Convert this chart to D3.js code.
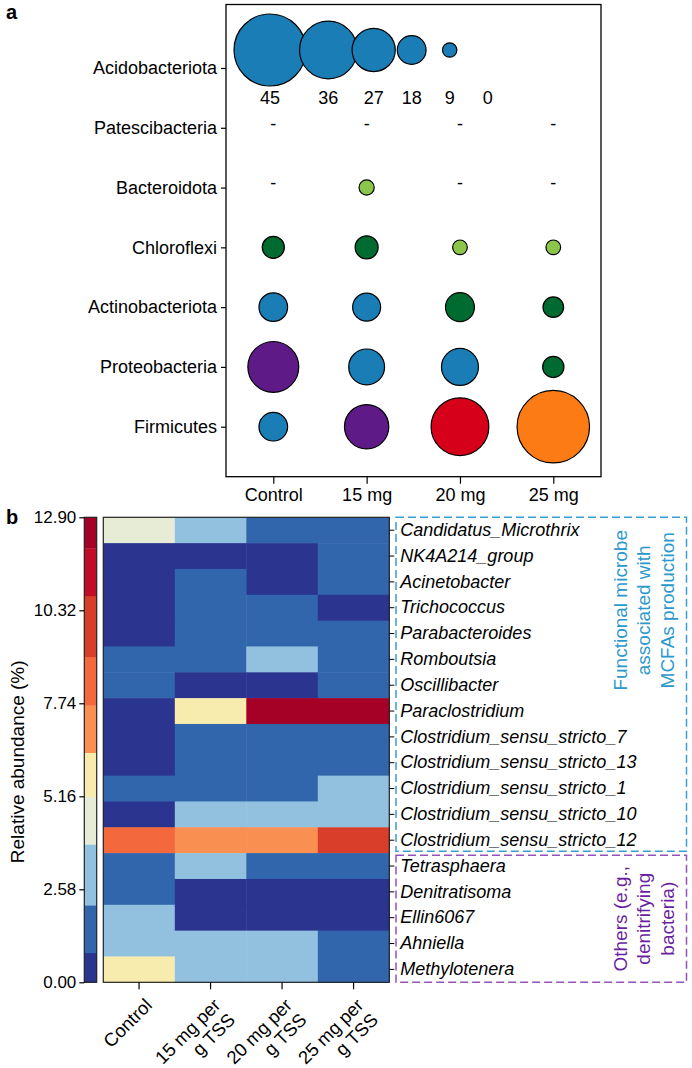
<!DOCTYPE html>
<html><head><meta charset="utf-8">
<script src="https://cdn.jsdelivr.net/npm/d3@7"></script>
<style>
body{margin:0;background:#fff}
svg{display:block}
text{font-family:"Liberation Sans",Arial,Helvetica,sans-serif;fill:#000}
</style>
</head><body>
<svg id="chart" width="692" height="1068"></svg>
<script>
// ---------- Panel a data ----------
const phyla = ["Acidobacteriota","Patescibacteria","Bacteroidota","Chloroflexi","Actinobacteriota","Proteobacteria","Firmicutes"];
const doses = ["Control","15 mg","20 mg","25 mg"];
// relative abundance (%) per dose; null = not detected ("-")
const patescibacteria = [null, null, null, null];
const bacteroidota    = [null, 9.5, null, null];
const chloroflexi     = [13.8, 14.4, 9.2, 9.2];
const actinobacteriota= [17.9, 17.5, 18.1, 12.9];
const proteobacteria  = [31.8, 22.4, 23.1, 13.3];
const firmicutes      = [17.9, 27.7, 36.1, 45.3];
// colour class of each bubble
const bacteroidotaCls = [null, "ltgreen", null, null];
const chloroflexiCls  = ["dkgreen","dkgreen","ltgreen","ltgreen"];
const actinoCls       = ["blue","blue","dkgreen","dkgreen"];
const proteoCls       = ["purple","blue","blue","dkgreen"];
const firmicutesCls   = ["blue","purple","red","orange"];
const sizeLegend = [45, 36, 27, 18, 9, 0];

// ---------- Panel b data ----------
const genera = ["Candidatus_Microthrix","NK4A214_group","Acinetobacter","Trichococcus","Parabacteroides",
  "Romboutsia","Oscillibacter","Paraclostridium","Clostridium_sensu_stricto_7","Clostridium_sensu_stricto_13",
  "Clostridium_sensu_stricto_1","Clostridium_sensu_stricto_10","Clostridium_sensu_stricto_12",
  "Tetrasphaera","Denitratisoma","Ellin6067","Ahniella","Methylotenera"];
const treatments = [["Control"],["15 mg per","g TSS"],["20 mg per","g TSS"],["25 mg per","g TSS"]];
const heatControl = [4.5,0.5,0.3,0.2,0.4,1.7,1.1,0.3,0.5,0.2,1.8,0.6,8.3,1.6,1.3,2.6,3.3,5.5];
const heat15      = [3.0,0.6,1.3,1.0,1.4,1.5,0.5,5.9,1.6,1.2,1.9,2.8,7.2,2.4,0.3,0.4,2.7,2.3];
const heat20      = [1.5,0.4,0.5,1.2,1.6,2.6,0.4,12.9,1.4,1.3,1.6,2.9,7.0,1.4,0.2,0.3,2.5,2.2];
const heat25      = [1.4,1.2,1.1,0.6,1.3,1.2,1.0,12.6,1.7,1.5,2.5,3.2,9.5,1.2,0.2,0.3,1.9,1.1];
const colorbarTicks = [0.00, 2.58, 5.16, 7.74, 10.32, 12.90];
const colorBreaks = [0.82, 2.14, 3.83, 5.15, 6.37, 7.69, 9.03, 10.72, 12.04];
const colorbarMax = 12.90;
const groupFunctional = ["Functional microbe","associated with","MCFAs production"];
const groupOthers = ["Others (e.g.,","denitrifying","bacteria)"];
const nFunctional = 13;

// ---------- styles ----------
const bubblePalette = {blue:"#1a7db5", purple:"#5e1b87", red:"#d6001b", orange:"#fd7b14", dkgreen:"#006b31", ltgreen:"#8bc54b"};
const heatPalette = ["#2b3590","#3166ad","#92c1df","#e6ecd6","#f8ebae","#f98f50","#f3683c","#d93e2a","#c20b27","#a50026"];
const FS = 18;

const svg = d3.select("#chart");

// ======================= PANEL A =======================
const aL = 226, aR = 601, aT = 4.5, aB = 476.7;
const x = d3.scalePoint().domain(doses).range([273.3, 553.3]);
const y = d3.scalePoint().domain(phyla).range([68, 426.7]);
const r = d3.scaleLinear().domain([0, 45]).range([0, 36]);
const color = d3.scaleOrdinal().domain(Object.keys(bubblePalette)).range(Object.values(bubblePalette));

svg.append("text").attr("x", 6).attr("y", 19).style("font-weight","bold").style("font-size","20px").text("a");

const gA = svg.append("g");
gA.append("rect").attr("x", aL).attr("y", aT).attr("width", aR-aL).attr("height", aB-aT)
  .attr("fill","none").attr("stroke","#000").attr("stroke-width",1.3);

// y axis
const yAxis = gA.append("g").attr("transform",`translate(${aL},0)`)
  .call(d3.axisLeft(y).tickSize(5).tickPadding(4));
yAxis.select(".domain").remove();
yAxis.selectAll("line").attr("stroke","#000").attr("stroke-width",1.2);
yAxis.selectAll("text").style("font-size",FS+"px").attr("fill","#000");
// x axis
const xAxis = gA.append("g").attr("transform",`translate(0,${aB})`)
  .call(d3.axisBottom(x).tickSize(7).tickPadding(5));
xAxis.select(".domain").remove();
xAxis.selectAll("line").attr("stroke","#000").attr("stroke-width",1.2);
xAxis.selectAll("text").style("font-size",FS+"px").attr("fill","#000");

// bubble data
const rows = [
  {p:"Patescibacteria", v:patescibacteria, c:[null,null,null,null]},
  {p:"Bacteroidota", v:bacteroidota, c:bacteroidotaCls},
  {p:"Chloroflexi", v:chloroflexi, c:chloroflexiCls},
  {p:"Actinobacteriota", v:actinobacteriota, c:actinoCls},
  {p:"Proteobacteria", v:proteobacteria, c:proteoCls},
  {p:"Firmicutes", v:firmicutes, c:firmicutesCls}
];
const cells = [];
rows.forEach(row => doses.forEach((d,i) => cells.push({phylum:row.p, dose:d, value:row.v[i], cls:row.c[i]})));

gA.selectAll("circle.bub").data(cells.filter(d => d.value !== null)).join("circle")
  .attr("class","bub")
  .attr("cx", d => x(d.dose)).attr("cy", d => y(d.phylum)).attr("r", d => r(d.value))
  .attr("fill", d => color(d.cls)).attr("stroke","#000").attr("stroke-width",1.2);
gA.selectAll("text.na").data(cells.filter(d => d.value === null)).join("text")
  .attr("class","na").attr("x", d => x(d.dose)).attr("y", d => y(d.phylum)).attr("dy","0.1em")
  .attr("text-anchor","middle").style("font-size",FS+"px").text("-");

// size legend in Acidobacteriota row
const legX = [];
{
  let cx = 270;
  sizeLegend.forEach((v,i) => {
    if (i > 0) cx += Math.max(38, 0.9*(r(sizeLegend[i-1]) + r(v)));
    legX.push(cx);
  });
}
const legY = y("Acidobacteriota") - 18;
gA.selectAll("circle.leg").data(sizeLegend.filter(v => v > 0)).join("circle")
  .attr("class","leg").attr("cx",(d,i)=>legX[i]).attr("cy",legY).attr("r",d=>r(d))
  .attr("fill",bubblePalette.blue).attr("stroke","#000").attr("stroke-width",1.2);
gA.selectAll("text.leg").data(sizeLegend).join("text")
  .attr("class","leg").attr("x",(d,i)=>legX[i]).attr("y",legY+54).attr("text-anchor","middle")
  .style("font-size",FS+"px").text(d=>d);

// ======================= PANEL B =======================
const hL = 103.3, hR = 389.3, hT = 517.3, hB = 982.3;
const cols = treatments.map(t => t.join(" "));
const hx = d3.scaleBand().domain(cols).range([hL, hR]);
const hy = d3.scaleBand().domain(genera).range([hT, hB]);
const heatColor = d3.scaleThreshold().domain(colorBreaks).range(heatPalette);
const heatCols = [heatControl, heat15, heat20, heat25];

svg.append("text").attr("x", 6).attr("y", 524).style("font-weight","bold").style("font-size","20px").text("b");

const gB = svg.append("g");
const hcells = [];
genera.forEach((g,gi) => cols.forEach((c,ci) => hcells.push({genus:g, col:c, value:heatCols[ci][gi]})));
gB.selectAll("rect.cell").data(hcells).join("rect").attr("class","cell")
  .attr("x", d => hx(d.col)).attr("y", d => hy(d.genus))
  .attr("width", hx.bandwidth()+0.5).attr("height", hy.bandwidth()+0.5)
  .attr("fill", d => heatColor(d.value));
gB.append("rect").attr("x",hL).attr("y",hT).attr("width",hR-hL).attr("height",hB-hT)
  .attr("fill","none").attr("stroke","#222").attr("stroke-width",1.2);

// right labels
const rAxis = gB.append("g").attr("transform",`translate(${hR},0)`)
  .call(d3.axisRight(hy).tickSize(5).tickPadding(6));
rAxis.select(".domain").remove();
rAxis.selectAll("line").attr("stroke","#000").attr("stroke-width",1);
rAxis.selectAll("text").style("font-size",FS+"px").style("font-style","italic").attr("fill","#000");

// bottom ticks + rotated labels (one text element per line)
const bAxis = gB.append("g").attr("transform",`translate(0,${hB})`)
  .call(d3.axisBottom(hx).tickSize(7).tickFormat(""));
bAxis.select(".domain").remove();
bAxis.selectAll("line").attr("stroke","#000").attr("stroke-width",1.2);
const lblFS = 18.5, lineH = 20.5;
treatments.forEach((lines, i) => {
  const cx = hx(cols[i]) + hx.bandwidth()/2;
  const off = (lines.length - 1) * 3;
  lines.forEach((ln, k) => {
    const d = k * lineH * Math.SQRT1_2;
    gB.append("text")
      .attr("transform", `translate(${cx + 5 - off + d},${hB + 15 + d}) rotate(-45)`)
      .attr("text-anchor","end").attr("dy","0.7em").style("font-size",lblFS+"px").text(ln);
  });
});

// colorbar
const cbL = 84.3, cbW = 12.4;
const cy = d3.scaleLinear().domain([0, colorbarMax]).range([hB, hT]);
const edges = [0, ...colorBreaks, colorbarMax];
gB.selectAll("rect.cb").data(heatPalette).join("rect").attr("class","cb")
  .attr("x", cbL).attr("width", cbW)
  .attr("y", (d,i) => cy(edges[i+1])).attr("height", (d,i) => cy(edges[i]) - cy(edges[i+1]) + 0.3)
  .attr("fill", d => d);
gB.append("rect").attr("x",cbL).attr("y",hT).attr("width",cbW).attr("height",hB-hT)
  .attr("fill","none").attr("stroke","#222").attr("stroke-width",1.2);
const cAxis = gB.append("g").attr("transform",`translate(${cbL},0)`)
  .call(d3.axisLeft(cy).tickValues(colorbarTicks).tickFormat(d3.format(".2f")).tickSize(5).tickPadding(3));
cAxis.select(".domain").remove();
cAxis.selectAll("line").attr("stroke","#000").attr("stroke-width",1.2);
cAxis.selectAll("text").style("font-size","17px").attr("fill","#000");
gB.append("text").attr("transform",`translate(24,${(hT+hB)/2 + 12}) rotate(-90)`)
  .attr("text-anchor","middle").style("font-size","19px").text("Relative abundance (%)");

// group boxes
const boxL = 396, boxR = 686.5;
const splitY = hy(genera[nFunctional]);
const groups = [
  {y0: hT, y1: splitY - 2, stroke:"#3a9fd0", fill:"#2b98cc", lines: groupFunctional, cyT: hT + 93},
  {y0: splitY + 2, y1: hB, stroke:"#9452b8", fill:"#6a1fa0", lines: groupOthers, cyT: (splitY + hB)/2 + 1}
];
groups.forEach(g => {
  gB.append("rect").attr("x",boxL).attr("y",g.y0).attr("width",boxR-boxL).attr("height",g.y1-g.y0)
    .attr("fill","none").attr("stroke",g.stroke).attr("stroke-width",1.5).attr("stroke-dasharray","8,4");
  g.lines.forEach((ln,k) => {
    gB.append("text").attr("transform",`translate(${620 + k*23.5},${g.cyT}) rotate(-90)`)
      .attr("text-anchor","middle").attr("dy","0.35em").style("font-size","19px").style("fill",g.fill).text(ln);
  });
});
</script>
</body></html>
